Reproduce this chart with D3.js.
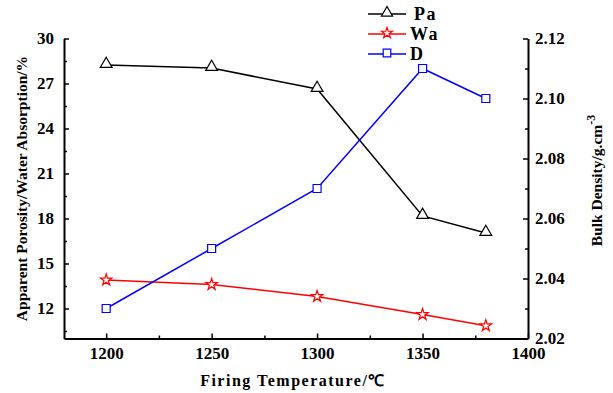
<!DOCTYPE html>
<html>
<head>
<meta charset="utf-8">
<script src="https://cdn.jsdelivr.net/npm/d3@7"></script>
</head>
<body style="margin: 0; background: #fff;">
<script>
// data
const temps = [1200, 1250, 1300, 1350, 1380]
const pa = [28.23, 28.03, 26.63, 18.17, 17.03]
const wa = [13.9, 13.6, 12.8, 11.6, 10.85]
const density = [2.03, 2.05, 2.07, 2.11, 2.10]
const xTicks = [1200, 1250, 1300, 1350, 1400]
const leftTicks = [12, 15, 18, 21, 24, 27, 30]
const rightTicks = [2.02, 2.04, 2.06, 2.08, 2.10, 2.12]

const FONT = 'Liberation Serif'
const width = 613
const height = 393
const margin = { top: 38.5, left: 64, bottom: 54.5, right: 85 }
const w = width - margin.left - margin.right
const h = height - margin.top - margin.bottom

const svg = d3.select('body').append('svg')
  .attr('width', width)
  .attr('height', height)
  .style('display', 'block')

const g = svg.append('g')
  .attr('transform', `translate(${margin.left}, ${margin.top})`)

const x = d3.scaleLinear().domain([1180, 1400]).range([0, w])
const yL = d3.scaleLinear().domain([10, 30]).range([h, 0])
const yR = d3.scaleLinear().domain([2.02, 2.12]).range([h, 0])

// minor ticks
const minor = (axis) => axis.tickFormat('').tickSizeInner(3).tickSizeOuter(0)
g.append('g').attr('class', 'minor')
  .attr('transform', `translate(0, ${h})`)
  .call(minor(d3.axisTop(x).tickValues([1225, 1275, 1325, 1375])))
g.append('g').attr('class', 'minor')
  .call(minor(d3.axisRight(yL).tickValues(d3.range(10.5, 30, 3))))
g.append('g').attr('class', 'minor')
  .attr('transform', `translate(${w}, 0)`)
  .call(minor(d3.axisLeft(yR).tickValues([2.03, 2.05, 2.07, 2.09, 2.11])))

// major axes, ticks pointing inward
const xAxis = g.append('g')
  .attr('transform', `translate(0, ${h})`)
  .call(d3.axisTop(x).tickValues(xTicks).tickSizeInner(5).tickSizeOuter(0)
    .tickFormat(d3.format('d')))
xAxis.selectAll('text').attr('y', 8).attr('dy', '0.71em')

const lAxis = g.append('g')
  .call(d3.axisRight(yL).tickValues(leftTicks).tickSizeInner(5).tickSizeOuter(0))
lAxis.selectAll('text').attr('x', -10).attr('text-anchor', 'end')

const rAxis = g.append('g')
  .attr('transform', `translate(${w}, 0)`)
  .call(d3.axisLeft(yR).tickValues(rightTicks).tickSizeInner(5).tickSizeOuter(0)
    .tickFormat(d3.format('.2f')))
rAxis.selectAll('text').attr('x', 7).attr('text-anchor', 'start')

svg.selectAll('.domain').attr('stroke', '#000').attr('stroke-width', 2)
svg.selectAll('.tick line').attr('stroke', '#000').attr('stroke-width', 1.5)
svg.selectAll('.tick text')
  .attr('fill', '#000')
  .attr('font-family', FONT)
  .attr('font-weight', 'bold')
  .attr('font-size', 17)
svg.selectAll('.minor .domain').remove()

// series
const series = [
  { name: 'Pa', values: pa, y: yL, color: '#000', shape: d3.symbolTriangle, size: 60 },
  { name: 'Wa', values: wa, y: yL, color: '#ff0000', shape: d3.symbolStar, size: 40 },
  { name: 'D', values: density, y: yR, color: '#0000ff', shape: d3.symbolSquare, size: 64 }
]

series.forEach((s) => {
  const pts = temps.map((t, i) => [x(t), s.y(s.values[i])])
  g.append('path')
    .attr('d', d3.line()(pts))
    .attr('fill', 'none')
    .attr('stroke', s.color)
    .attr('stroke-width', 1.5)
  g.selectAll(null)
    .data(pts)
    .enter()
    .append('path')
    .attr('transform', (d) => `translate(${d[0]}, ${d[1] + (s.shape === d3.symbolTriangle ? -1 : 0)})`)
    .attr('d', d3.symbol().type(s.shape).size(s.size))
    .attr('fill', '#fff')
    .attr('stroke', s.color)
    .attr('stroke-width', 1.2)
})

// legend
const legend = svg.selectAll('.legend')
  .data(series)
  .enter().append('g')
  .attr('class', 'legend')
  .attr('transform', (d, i) => `translate(368, ${14 + i * 20})`)

legend.append('line')
  .attr('x1', 0).attr('x2', 38)
  .attr('stroke', (d) => d.color)
  .attr('stroke-width', 1.5)
legend.append('path')
  .attr('transform', 'translate(19, -1)')
  .attr('d', (d) => d3.symbol().type(d.shape).size(d.size * 0.9)())
  .attr('fill', '#fff')
  .attr('stroke', (d) => d.color)
  .attr('stroke-width', 1.2)
legend.append('text')
  .attr('x', (d) => d.name === 'Pa' ? 46 : 42)
  .attr('dy', '0.35em')
  .attr('font-family', FONT)
  .attr('font-weight', 'bold')
  .attr('font-size', 18)
  .attr('letter-spacing', 1.5)
  .text((d) => d.name)

// axis titles
svg.append('text')
  .attr('x', margin.left + w / 2 - 3)
  .attr('y', 386)
  .attr('text-anchor', 'middle')
  .attr('font-family', FONT)
  .attr('font-weight', 'bold')
  .attr('font-size', 16)
  .attr('letter-spacing', 1.5)
  .text('Firing Temperature/℃')

svg.append('text')
  .attr('transform', `translate(27, ${margin.top + h / 2}) rotate(-90)`)
  .attr('text-anchor', 'middle')
  .attr('font-family', FONT)
  .attr('font-weight', 'bold')
  .attr('font-size', 15.5)
  .text('Apparent Porosity/Water Absorption/%')

const rt = svg.append('text')
  .attr('transform', `translate(602, ${margin.top + h / 2 - 8}) rotate(-90)`)
  .attr('text-anchor', 'middle')
  .attr('font-family', FONT)
  .attr('font-weight', 'bold')
  .attr('font-size', 15.5)
rt.append('tspan').text('Bulk Density/g.cm')
rt.append('tspan').attr('dy', -7).attr('font-size', 12).text('-3')
</script>
</body>
</html>
